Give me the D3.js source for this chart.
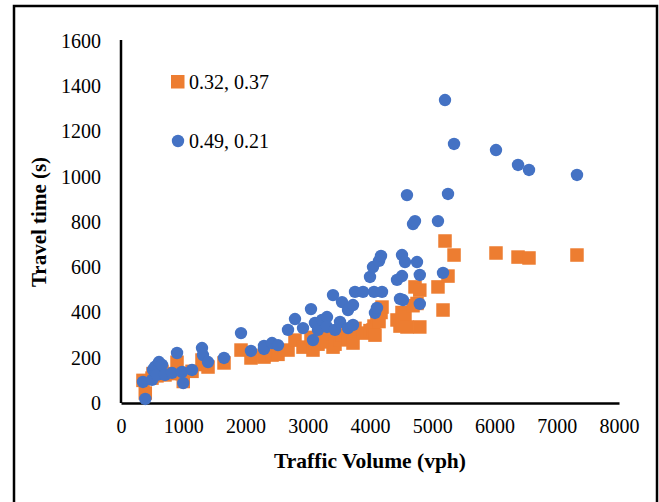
<!DOCTYPE html>
<html>
<head>
<meta charset="utf-8">
<script src="https://cdn.jsdelivr.net/npm/d3@7"></script>
<style>
  body { margin: 0; background: #fff; }
  text { font-family: "Liberation Serif", "Times New Roman", serif; }
</style>
</head>
<body>
<script>
// traffic volume (vph) and travel time (s) for the two parameter sets
var volume = [353, 390, 498, 514, 546, 578, 610, 659, 707, 819, 900, 1000, 980, 1141, 1301, 1317, 1398, 1655,
              1928, 2088, 2297, 2297, 2426, 2522, 2683, 2795, 2924, 3052, 3084, 3116, 3165, 3229, 3309, 3309,
              3406, 3438, 3518, 3550, 3647, 3647, 3727, 3727, 3759, 3888, 4000, 4048, 4064, 4080, 4112, 4145,
              4177, 4193, 4434, 4482, 4514, 4514, 4530, 4562, 4594, 4691, 4723, 4755, 4800, 4800, 5092, 5173,
              5205, 5253, 5350, 6024, 6378, 6554, 7325]
var timeA = [100, 44, 110, 130, 124, 120, 150, 140, 124, 130, 180, 95, 130, 140, 190, 170, 159, 177,
             234, 199, 203, 210, 212, 215, 234, 278, 247, 290, 234, 265, 260, 280, 290, 270,
             247, 260, 280, 300, 280, 310, 265, 320, 330, 309, 320, 323, 340, 300, 380, 360,
             400, 424, 367, 340, 400, 350, 345, 380, 336, 430, 513, 440, 499, 336, 513, 411,
             716, 561, 654, 663, 645, 641, 654]
var timeB = [93, 18, 102, 146, 160, 124, 181, 168, 124, 133, 221, 88, 137, 146, 243, 212, 181, 199,
             309, 230, 252, 239, 265, 256, 323, 371, 331, 415, 278, 354, 323, 367, 380, 336,
             477, 323, 358, 446, 331, 411, 345, 433, 491, 491, 557, 601, 491, 398, 420, 628,
             650, 491, 544, 460, 654, 561, 455, 623, 919, 791, 804, 623, 566, 438, 804, 575,
             1339, 924, 1145, 1118, 1052, 1030, 1008]
var seriesNames = ['0.32, 0.37', '0.49, 0.21']
var xTicks = [0, 1000, 2000, 3000, 4000, 5000, 6000, 7000, 8000]
var yTicks = [0, 200, 400, 600, 800, 1000, 1200, 1400, 1600]

var w = 659, h = 502
var orange = '#ED7D31', blue = '#4472C4'

var svg = d3.select('body').append('svg')
  .attr('width', w)
  .attr('height', h)

// outer frame
svg.append('rect')
  .attr('x', 14).attr('y', 6)
  .attr('width', 643).attr('height', 510)
  .attr('fill', 'none').attr('stroke', '#000').attr('stroke-width', 2.5)

var x = d3.scaleLinear().domain([0, 8000]).range([121, 619])
var y = d3.scaleLinear().domain([0, 1600]).range([403, 41])

var xAxis = svg.append('g')
  .attr('transform', 'translate(0,' + y(0) + ')')
  .call(d3.axisBottom(x).tickValues(xTicks).tickSize(0).tickPadding(16).tickFormat(d3.format('d')))
var yAxis = svg.append('g')
  .attr('transform', 'translate(' + x(0) + ',0)')
  .call(d3.axisLeft(y).tickValues(yTicks).tickSize(0).tickPadding(20).tickFormat(d3.format('d')))

;[xAxis, yAxis].forEach(function(g){
  g.select('.domain').attr('stroke', '#000').attr('stroke-width', 2.5)
  g.selectAll('text')
    .attr('font-family', '"Liberation Serif", serif')
    .attr('font-size', '20px')
    .attr('fill', '#000')
})
yAxis.select('.domain').attr('d', 'M0,' + y(0) + 'V' + (y(1600) - 1))

// axis titles
svg.append('text')
  .attr('x', 370).attr('y', 468)
  .attr('text-anchor', 'middle')
  .attr('font-size', '21.5px').attr('font-weight', 'bold')
  .text('Traffic Volume (vph)')
svg.append('text')
  .attr('transform', 'translate(46,222) rotate(-90)')
  .attr('text-anchor', 'middle')
  .attr('font-size', '21px').attr('font-weight', 'bold')
  .text('Travel time (s)')

var pts = volume.map(function(v, i){ return {v: v, a: timeA[i], b: timeB[i]} })

// squares first, circles drawn on top
var sq = 13.5
svg.append('g').selectAll('rect')
  .data(pts)
  .enter()
  .append('rect')
  .attr('x', function(d){ return x(d.v) - sq / 2 })
  .attr('y', function(d){ return y(d.a) - sq / 2 })
  .attr('width', sq).attr('height', sq)
  .attr('fill', orange)

svg.append('g').selectAll('circle')
  .data(pts)
  .enter()
  .append('circle')
  .attr('cx', function(d){ return x(d.v) })
  .attr('cy', function(d){ return y(d.b) })
  .attr('r', 6.2)
  .attr('fill', blue)

// legend
var legend = svg.append('g')
legend.append('rect')
  .attr('x', 171).attr('y', 75).attr('width', sq).attr('height', sq)
  .attr('fill', orange)
legend.append('circle')
  .attr('cx', 178).attr('cy', 141).attr('r', 6.2)
  .attr('fill', blue)
legend.selectAll('text')
  .data(seriesNames)
  .enter()
  .append('text')
  .attr('x', 189)
  .attr('y', function(d, i){ return 89 + i * 59 })
  .attr('font-size', '20px')
  .text(function(d){ return d })
</script>
</body>
</html>
